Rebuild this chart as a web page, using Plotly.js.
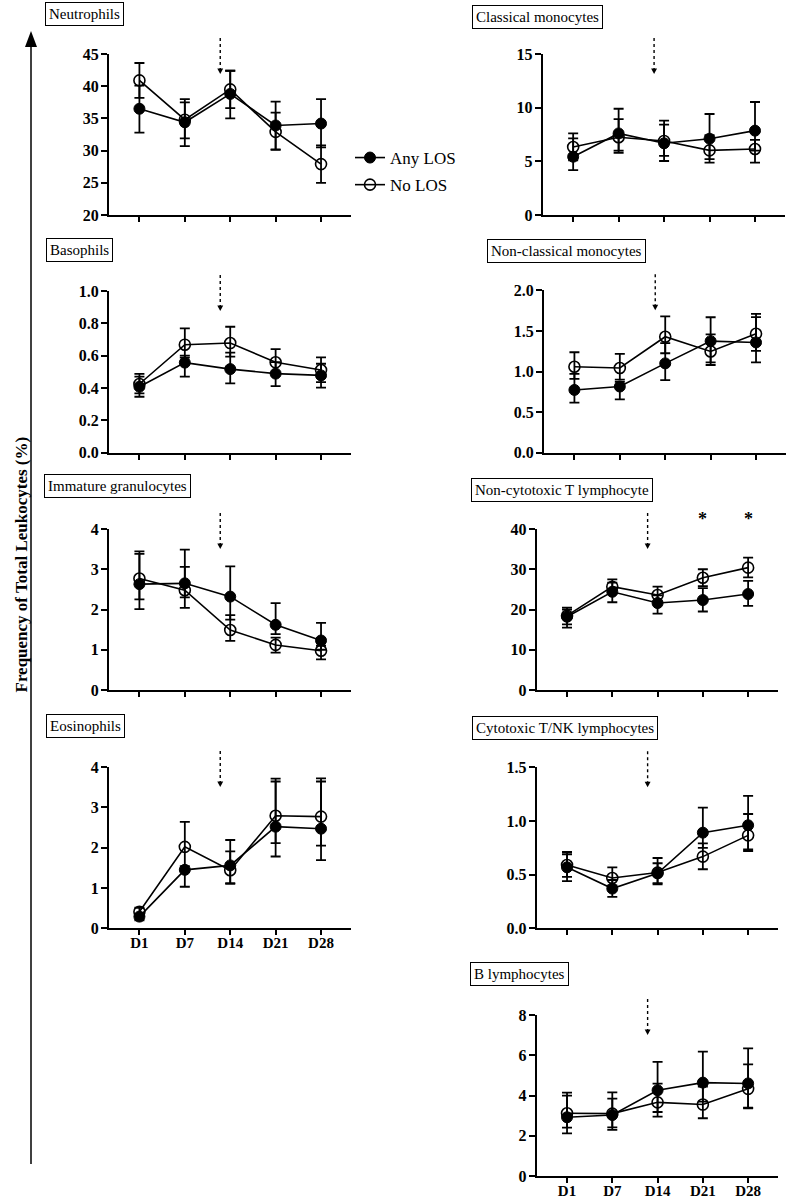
<!DOCTYPE html>
<html><head><meta charset="utf-8">
<script src="https://cdn.plot.ly/plotly-3.0.1.min.js"></script>
<style>html,body{margin:0;padding:0;background:#fff}</style>
</head><body><div id="chart" style="width:787px;height:1199px"></div>
<script>
// ---------- DATA ----------
const days = ['D1', 'D7', 'D14', 'D21', 'D28'];
const seriesNames = ['Any LOS', 'No LOS'];

const neutTicks = [20, 25, 30, 35, 40, 45];
const neutAnyMean = [36.5, 34.4, 38.8, 33.9, 34.2];
const neutAnyHi   = [40.1, 37.5, 42.4, 37.6, 38.0];
const neutAnyLo   = [32.8, 30.7, 35.0, 30.2, 30.5];
const neutNoMean  = [40.9, 34.8, 39.5, 32.9, 27.9];
const neutNoHi    = [43.6, 38.0, 42.4, 35.9, 30.8];
const neutNoLo    = [38.2, 31.9, 36.6, 30.1, 25.0];

const cmonoTicks = [0, 5, 10, 15];
const cmonoAnyMean = [5.43, 7.6, 6.68, 7.11, 7.86];
const cmonoAnyHi   = [7.14, 9.9, 8.42, 9.41, 10.53];
const cmonoAnyLo   = [4.19, 5.8, 5.03, 5.2, 6.0];
const cmonoNoMean  = [6.34, 7.24, 6.9, 6.02, 6.15];
const cmonoNoHi    = [7.61, 8.94, 8.79, 7.45, 7.0];
const cmonoNoLo    = [5.1, 6.0, 5.5, 4.88, 4.88];

const basoTicks = [0, 0.2, 0.4, 0.6, 0.8, 1.0];
const basoAnyMean = [0.408, 0.557, 0.517, 0.489, 0.478];
const basoAnyHi   = [0.47, 0.60, 0.619, 0.56, 0.55];
const basoAnyLo   = [0.346, 0.47, 0.429, 0.412, 0.402];
const basoNoMean  = [0.425, 0.668, 0.678, 0.559, 0.511];
const basoNoHi    = [0.487, 0.769, 0.779, 0.641, 0.59];
const basoNoLo    = [0.367, 0.588, 0.594, 0.49, 0.437];

const ncmonoTicks = [0, 0.5, 1.0, 1.5, 2.0];
const ncmonoAnyMean = [0.773, 0.815, 1.10, 1.374, 1.358];
const ncmonoAnyHi   = [0.97, 0.873, 1.35, 1.668, 1.67];
const ncmonoAnyLo   = [0.616, 0.657, 0.894, 1.08, 1.113];
const ncmonoNoMean  = [1.059, 1.043, 1.428, 1.246, 1.465];
const ncmonoNoHi    = [1.237, 1.217, 1.68, 1.457, 1.71];
const ncmonoNoLo    = [0.91, 0.9, 1.225, 1.113, 1.254];

const igTicks = [0, 1, 2, 3, 4];
const igAnyMean = [2.63, 2.65, 2.32, 1.62, 1.23];
const igAnyHi   = [3.38, 3.49, 3.07, 2.16, 1.67];
const igAnyLo   = [2.01, 2.3, 1.75, 1.39, 1.0];
const igNoMean  = [2.77, 2.48, 1.49, 1.12, 0.976];
const igNoHi    = [3.445, 3.06, 1.86, 1.3, 1.1];
const igNoLo    = [2.25, 2.04, 1.22, 0.93, 0.76];

const ncTTicks = [0, 10, 20, 30, 40];
const ncTAnyMean = [18.2, 24.4, 21.6, 22.35, 23.85];
const ncTAnyHi   = [20.45, 26.7, 23.5, 25.3, 27.1];
const ncTAnyLo   = [15.48, 21.8, 19.0, 19.5, 20.9];
const ncTNoMean  = [18.46, 25.67, 23.6, 27.9, 30.4];
const ncTNoHi    = [20.0, 27.5, 25.67, 30.0, 32.9];
const ncTNoLo    = [16.3, 24.0, 22.0, 25.8, 28.0];
const ncTSignificant = ['D21', 'D28'];

const eosTicks = [0, 1, 2, 3, 4];
const eosAnyMean = [0.29, 1.45, 1.56, 2.52, 2.47];
const eosAnyHi   = [0.36, 1.54, 2.19, 3.64, 3.64];
const eosAnyLo   = [0.2, 1.03, 1.1, 1.78, 1.69];
const eosNoMean  = [0.41, 2.02, 1.44, 2.79, 2.77];
const eosNoHi    = [0.51, 2.64, 1.91, 3.71, 3.72];
const eosNoLo    = [0.3, 1.45, 1.12, 2.11, 2.05];

const ctnkTicks = [0, 0.5, 1.0, 1.5];
const ctnkAnyMean = [0.568, 0.37, 0.512, 0.891, 0.96];
const ctnkAnyHi   = [0.69, 0.45, 0.606, 1.124, 1.233];
const ctnkAnyLo   = [0.44, 0.292, 0.41, 0.75, 0.72];
const ctnkNoMean  = [0.59, 0.469, 0.519, 0.668, 0.866];
const ctnkNoHi    = [0.711, 0.568, 0.655, 0.792, 1.065];
const ctnkNoLo    = [0.48, 0.4, 0.42, 0.55, 0.736];

const bTicks = [0, 2, 4, 6, 8];
const bAnyMean = [2.92, 3.03, 4.26, 4.64, 4.6];
const bAnyHi   = [3.99, 3.84, 5.67, 6.18, 6.34];
const bAnyLo   = [2.12, 2.29, 3.18, 3.7, 3.36];
const bNoMean  = [3.12, 3.1, 3.66, 3.55, 4.33];
const bNoHi    = [4.14, 4.16, 4.59, 4.44, 5.55];
const bNoLo    = [2.4, 2.42, 2.95, 2.87, 3.4];

const yAxisTitle = 'Frequency of Total Leukocytes (%)';

// ---------- LAYOUT CONFIG ----------
const W = 787, H = 1199;
const FONT = "'Liberation Serif', 'Times New Roman', Times, serif";
const pxX = p => p / W;
const pxY = p => 1 - p / H;
const ARROW_X = 1.78;

const panels = [
  {name: 'Neutrophils', any: [neutAnyMean, neutAnyHi, neutAnyLo], no: [neutNoMean, neutNoHi, neutNoLo], ticks: neutTicks, fmt: 'd', x0: 109, x1: 351, top: 54, bot: 215, box: [45, 2], xlab: false},
  {name: 'Classical monocytes', any: [cmonoAnyMean, cmonoAnyHi, cmonoAnyLo], no: [cmonoNoMean, cmonoNoHi, cmonoNoLo], ticks: cmonoTicks, fmt: 'd', x0: 542.7, x1: 785, top: 54, bot: 215, box: [471.7, 5], xlab: false},
  {name: 'Basophils', any: [basoAnyMean, basoAnyHi, basoAnyLo], no: [basoNoMean, basoNoHi, basoNoLo], ticks: basoTicks, fmt: '.1f', x0: 109, x1: 351, top: 291, bot: 452.7, box: [46, 238.3], xlab: false},
  {name: 'Non-classical monocytes', any: [ncmonoAnyMean, ncmonoAnyHi, ncmonoAnyLo], no: [ncmonoNoMean, ncmonoNoHi, ncmonoNoLo], ticks: ncmonoTicks, fmt: '.1f', x0: 544, x1: 786, top: 290.3, bot: 452.7, box: [487.3, 239.3], xlab: false},
  {name: 'Immature granulocytes', any: [igAnyMean, igAnyHi, igAnyLo], no: [igNoMean, igNoHi, igNoLo], ticks: igTicks, fmt: 'd', x0: 109, x1: 351, top: 529, bot: 690, box: [44.3, 474], xlab: false},
  {name: 'Non-cytotoxic T lymphocyte', any: [ncTAnyMean, ncTAnyHi, ncTAnyLo], no: [ncTNoMean, ncTNoHi, ncTNoLo], ticks: ncTTicks, fmt: 'd', x0: 536.7, x1: 778, top: 529, bot: 690, box: [470.7, 478.3], xlab: false, stars: ncTSignificant},
  {name: 'Eosinophils', any: [eosAnyMean, eosAnyHi, eosAnyLo], no: [eosNoMean, eosNoHi, eosNoLo], ticks: eosTicks, fmt: 'd', x0: 109, x1: 351, top: 767, bot: 928.3, box: [46, 714], xlab: true},
  {name: 'Cytotoxic T/NK lymphocytes', any: [ctnkAnyMean, ctnkAnyHi, ctnkAnyLo], no: [ctnkNoMean, ctnkNoHi, ctnkNoLo], ticks: ctnkTicks, fmt: '.1f', x0: 536.7, x1: 778, top: 767.3, bot: 928.3, box: [471.7, 716], xlab: false},
  {name: 'B lymphocytes', any: [bAnyMean, bAnyHi, bAnyLo], no: [bNoMean, bNoHi, bNoLo], ticks: bTicks, fmt: 'd', x0: 536.7, x1: 778, top: 1015, bot: 1176, box: [470, 961.7], xlab: true}
];

const traces = [];
const layout = {
  width: W, height: H, autosize: false,
  margin: {l: 0, r: 0, t: 0, b: 0},
  paper_bgcolor: '#fff', plot_bgcolor: 'rgba(0,0,0,0)',
  font: {family: FONT, color: '#000'},
  showlegend: true,
  legend: {x: pxX(350), y: pxY(140), xanchor: 'left', yanchor: 'top', bgcolor: 'rgba(0,0,0,0)',
           font: {family: FONT, size: 17, color: '#000'}, traceorder: 'grouped', tracegroupgap: 2, itemwidth: 30},
  shapes: [], annotations: []
};

panels.forEach((p, i) => {
  const n = i + 1;
  const xa = 'x' + (n === 1 ? '' : n), ya = 'y' + (n === 1 ? '' : n);
  const xKey = 'xaxis' + (n === 1 ? '' : n), yKey = 'yaxis' + (n === 1 ? '' : n);
  const yRange = [p.ticks[0], p.ticks[p.ticks.length - 1]];
  layout[xKey] = {
    domain: [pxX(p.x0), pxX(p.x1)], anchor: ya, range: [-0.67, 4.66],
    tickmode: 'array', tickvals: [0, 1, 2, 3, 4], ticktext: days,
    showticklabels: p.xlab, ticks: 'outside', ticklen: 5, tickwidth: 2, tickcolor: '#000',
    ticklabelstandoff: -5,
    showline: true, linecolor: '#000', linewidth: 2, showgrid: false, zeroline: false,
    tickfont: {family: FONT, size: 15, weight: 'bold', color: '#000'}, fixedrange: true
  };
  layout[yKey] = {
    domain: [pxY(p.bot), pxY(p.top)], anchor: xa, range: yRange,
    tickmode: 'array', tickvals: p.ticks, tickformat: p.fmt,
    ticks: 'outside', ticklen: 6, tickwidth: 2, tickcolor: '#000',
    ticklabelstandoff: -1,
    showline: true, linecolor: '#000', linewidth: 2, showgrid: false, zeroline: false,
    tickfont: {family: FONT, size: 16, weight: 'bold', color: '#000'}, fixedrange: true
  };
  const mk = (d, idx) => {
    const [mean, hi, lo] = d;
    return {
      type: 'scatter', mode: 'lines+markers', name: seriesNames[idx],
      legendgroup: seriesNames[idx], showlegend: n === 1,
      x: days.map((_, k) => k), y: mean, xaxis: xa, yaxis: ya, cliponaxis: false,
      line: {color: '#000', width: 1.6},
      marker: idx === 0
        ? {symbol: 'circle', size: 11, color: '#000', line: {color: '#000', width: 1}}
        : {symbol: 'circle-open', size: 11, color: '#000', line: {color: '#000', width: 1.6}},
      error_y: {type: 'data', symmetric: false,
        array: hi.map((h, k) => h - mean[k]), arrayminus: lo.map((l, k) => mean[k] - l),
        color: '#000', thickness: 1.8, width: 5}
    };
  };
  traces.push(mk(p.any, 0));
  traces.push(mk(p.no, 1));

  // panel title box
  layout.annotations.push({
    xref: 'paper', yref: 'paper', x: pxX(p.box[0]), y: pxY(p.box[1]), xanchor: 'left', yanchor: 'top',
    text: p.name, showarrow: false, font: {family: FONT, size: 15, color: '#000'},
    bordercolor: '#000', borderwidth: 1, borderpad: 3, bgcolor: '#fff'
  });
  // dotted arrow (infection onset marker)
  layout.shapes.push({type: 'line', xref: xa, yref: 'paper', x0: ARROW_X, x1: ARROW_X,
    y0: pxY(p.top - 16), y1: pxY(p.top + 15), line: {color: '#000', width: 1.4, dash: 'dot'}});
  layout.shapes.push({type: 'path', xref: xa, yref: 'paper',
    path: `M ${ARROW_X - 0.065},${pxY(p.top + 14.5)} L ${ARROW_X + 0.065},${pxY(p.top + 14.5)} L ${ARROW_X},${pxY(p.top + 20)} Z`,
    fillcolor: '#000', line: {width: 0}});
  if (p.stars) {
    p.stars.forEach(s => {
      layout.annotations.push({xref: xa, yref: 'paper', x: days.indexOf(s), y: pxY(p.top - 10),
        yanchor: 'middle', text: '*', showarrow: false, font: {family: FONT, size: 18, weight: 'bold', color: '#000'}});
    });
  }
});

// big left axis arrow and title
layout.shapes.push({type: 'line', xref: 'paper', yref: 'paper', x0: pxX(31), x1: pxX(31), y0: pxY(1164), y1: pxY(45),
  line: {color: '#000', width: 1.5}});
layout.shapes.push({type: 'path', xref: 'paper', yref: 'paper',
  path: `M ${pxX(25)},${pxY(47)} L ${pxX(37)},${pxY(47)} L ${pxX(31)},${pxY(31)} Z`,
  fillcolor: '#000', line: {width: 0}});
layout.annotations.push({xref: 'paper', yref: 'paper', x: pxX(9), y: pxY(565), textangle: -90,
  text: yAxisTitle, showarrow: false, font: {family: FONT, size: 17, weight: 'bold', color: '#000'}});

Plotly.newPlot('chart', traces, layout, {staticPlot: true, displayModeBar: false});
</script>
</body></html>
